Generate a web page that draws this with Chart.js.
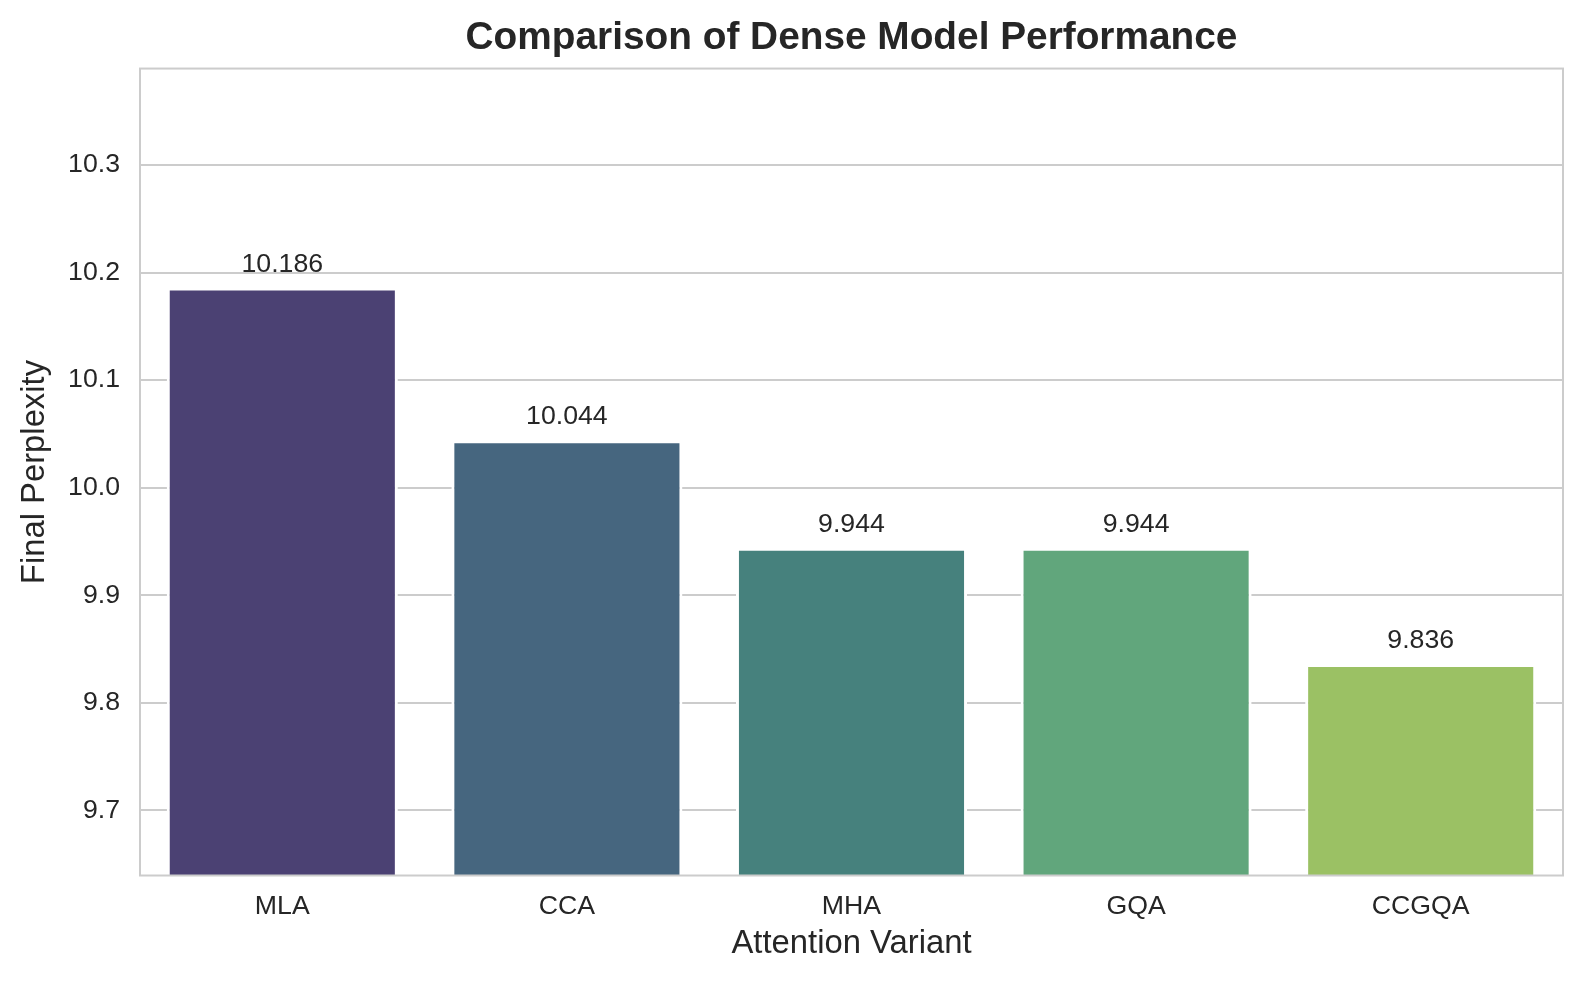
<!DOCTYPE html>
<html>
<head>
<meta charset="utf-8">
<script src="https://cdn.jsdelivr.net/npm/chart.js@4.4.1/dist/chart.umd.min.js"></script>
<style>
  html, body { margin: 0; padding: 0; background: #ffffff; }
  #wrap { width: 1590px; height: 988px; }
</style>
</head>
<body>
<div id="wrap"><canvas id="c" width="1590" height="988"></canvas></div>
<script>
// ---- data ----
const categories = ["MLA", "CCA", "MHA", "GQA", "CCGQA"];
const perplexity = [10.186, 10.044, 9.944, 9.944, 9.836];
const yTickValues = [9.7, 9.8, 9.9, 10.0, 10.1, 10.2, 10.3];
const barColors = ["#4b4173", "#46667f", "#46817d", "#61a67c", "#9bc164"];
const titleText = "Comparison of Dense Model Performance";
const xTitle = "Attention Variant";
const yTitle = "Final Perplexity";

const yMin = Math.min(...perplexity) * 0.98;
const yMax = Math.max(...perplexity) * 1.02;

const FONT = "'Liberation Sans', Arial, Helvetica, sans-serif";
const TEXT = "#262626";
const GRID = "#cccccc";

const framePlugin = {
  id: "frame",
  afterDatasetsDraw(chart) {
    const {ctx, chartArea: a} = chart;
    ctx.save();
    ctx.strokeStyle = GRID;
    ctx.lineWidth = 2;
    ctx.strokeRect(a.left, a.top, a.right - a.left, a.bottom - a.top);
    ctx.restore();
  }
};

const labelPlugin = {
  id: "barLabels",
  afterDatasetsDraw(chart) {
    const {ctx} = chart;
    const meta = chart.getDatasetMeta(0);
    ctx.save();
    ctx.font = "26.7px " + FONT;
    ctx.fillStyle = TEXT;
    ctx.textAlign = "center";
    ctx.textBaseline = "alphabetic";
    meta.data.forEach((bar, i) => {
      ctx.fillText(perplexity[i].toFixed(3), bar.x, bar.y - 16);
    });
    ctx.restore();
  }
};

new Chart(document.getElementById("c"), {
  type: "bar",
  data: {
    labels: categories,
    datasets: [{
      data: perplexity,
      backgroundColor: barColors,
      borderColor: "#ffffff",
      borderWidth: 3,
      borderSkipped: "start",
      barPercentage: 0.812,
      categoryPercentage: 1.0
    }]
  },
  options: {
    responsive: false,
    animation: false,
    devicePixelRatio: 1,
    layout: { padding: { left: 0, right: 27, top: 0, bottom: 0 } },
    plugins: {
      legend: { display: false },
      tooltip: { enabled: false },
      title: {
        display: true,
        text: titleText,
        color: TEXT,
        fullSize: false,
        font: { family: FONT, size: 38.8, weight: "bold", lineHeight: 1.2 },
        padding: { top: 15, bottom: 7 }
      }
    },
    scales: {
      x: {
        grid: { display: false, drawTicks: false },
        border: { display: false },
        ticks: { color: TEXT, font: { family: FONT, size: 26.7 }, padding: 15, maxRotation: 0 },
        title: {
          display: true, text: xTitle, color: TEXT,
          font: { family: FONT, size: 32.8, lineHeight: 1.2 },
          padding: { top: 0, bottom: 24 }
        },
        afterFit(scale) { scale.height = 112.5; }
      },
      y: {
        min: yMin,
        max: yMax,
        afterBuildTicks(scale) { scale.ticks = yTickValues.map(v => ({ value: v })); },
        grid: { color: GRID, lineWidth: 2, drawTicks: false },
        border: { display: false },
        ticks: {
          color: TEXT, font: { family: FONT, size: 26.7 }, padding: 20,
          callback: (v) => Number(v).toFixed(1)
        },
        title: {
          display: true, text: yTitle, color: TEXT,
          font: { family: FONT, size: 32.8, lineHeight: 1.2 },
          padding: { top: 15, bottom: 0 }
        },
        afterFit(scale) { scale.width = 140; }
      }
    }
  },
  plugins: [framePlugin, labelPlugin]
});
</script>
</body>
</html>
